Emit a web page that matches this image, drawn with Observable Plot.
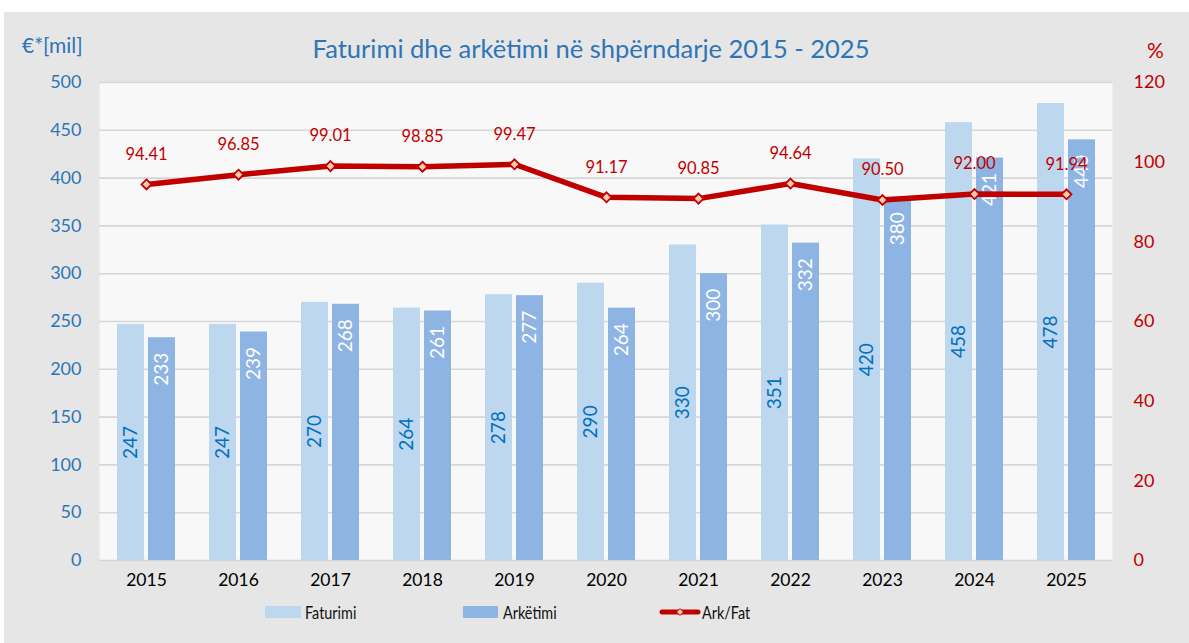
<!DOCTYPE html>
<html>
<head>
<meta charset="utf-8">
<script src="https://cdn.jsdelivr.net/npm/d3@7"></script>
<script src="https://cdn.jsdelivr.net/npm/@observablehq/plot@0.6"></script>
<style>
html,body{margin:0;padding:0;background:#fff;}
#wrap{position:relative;width:1189px;height:643px;overflow:hidden;font-family:Lato,"Open Sans",sans-serif;}
#bg{position:absolute;left:4px;top:12px;right:0;bottom:0;background:#e6e6e6;}
#chart{position:absolute;left:0;top:0;}
.title{position:absolute;top:33px;left:0;width:1182px;text-align:center;color:#2e75b6;font-size:25.5px;line-height:30px;white-space:nowrap;}
.unitL{position:absolute;left:22px;top:34px;line-height:22px;font-size:21px;color:#2e75b6;}
.unitR{position:absolute;left:1147px;top:39px;line-height:22px;font-size:21px;color:#c00000;}
.sw{position:absolute;top:606px;height:12px;}
.lt{position:absolute;top:601px;line-height:22px;font-size:18px;color:#111;transform:scaleX(0.8);transform-origin:left center;white-space:nowrap;}
</style>
</head>
<body>
<div id="wrap">
  <div id="bg"></div>
  <div id="chart"></div>
  <div class="title">Faturimi dhe arkëtimi në shpërndarje 2015 - 2025</div>
  <div class="unitL">€*[mil]</div>
  <div class="unitR">%</div>
  <div class="sw" style="left:265px;width:36px;background:#bdd7ee"></div>
  <div class="lt" style="left:305px">Faturimi</div>
  <div class="sw" style="left:463px;width:35px;background:#8eb4e3"></div>
  <div class="lt" style="left:503px">Arkëtimi</div>
  <svg style="position:absolute;left:659px;top:604px" width="42" height="16">
    <line x1="3" y1="8" x2="39" y2="8" stroke="#c00000" stroke-width="5" stroke-linecap="round"/>
    <path d="M21,4.5 L24.5,8 L21,11.5 L17.5,8 Z" fill="#f8cbad" stroke="#c00000" stroke-width="1"/>
  </svg>
  <div class="lt" style="left:702px">Ark/Fat</div>
</div>
<script>
const years = ["2015","2016","2017","2018","2019","2020","2021","2022","2023","2024","2025"];
const faturimi = [247,247,270,264,278,290,330,351,420,458,478];
const arketimi = [233,239,268,261,277,264,300,332,380,421,440];
const arkFat = [94.41,96.85,99.01,98.85,99.47,91.17,90.85,94.64,90.50,92.00,91.94];
const leftTicks = [0,50,100,150,200,250,300,350,400,450,500];
const rightTicks = [0,20,40,60,80,100,120];

const k = 500 / 120;
const fat = years.map((year, i) => ({year, value: faturimi[i]}));
const ark = years.map((year, i) => ({year, value: arketimi[i]}));
const ratio = years.map((year, i) => ({year, pct: arkFat[i]}));

const chart = Plot.plot({
  width: 1189,
  height: 643,
  marginLeft: 99,
  marginRight: 77,
  marginTop: 82,
  marginBottom: 83,
  style: {background: "transparent", fontFamily: "Lato, 'Open Sans', sans-serif", overflow: "visible"},
  x: {type: "band", domain: years, padding: 0},
  y: {domain: [0, 500]},
  marks: [
    Plot.frame({fill: "#f8f8f8", stroke: "none"}),
    Plot.gridY(leftTicks, {stroke: "#d6d6d6", strokeOpacity: 1, strokeWidth: 1.6}),
    Plot.barY(fat, {x: "year", y: "value", fill: "#bdd7ee", dx: -15.5, insetLeft: 32.5, insetRight: 32.5}),
    Plot.barY(ark, {x: "year", y: "value", fill: "#8eb4e3", dx: 15.5, insetLeft: 32.5, insetRight: 32.5}),
    Plot.text(fat, {x: "year", y: d => d.value / 2, text: d => String(d.value), rotate: -90, dx: -15.5, fill: "#0070c0", fontSize: 19}),
    Plot.text(ark, {x: "year", y: "value", text: d => String(d.value), rotate: -90, textAnchor: "end", dx: 15.5, dy: 15, fill: "#ffffff", fontSize: 19}),
    Plot.line(ratio, {x: "year", y: d => d.pct * k, stroke: "#c00000", strokeWidth: 5.5}),
    Plot.dot(ratio, {x: "year", y: d => d.pct * k, symbol: "diamond2", r: 4.5, fill: "#f8cbad", stroke: "#c00000", strokeWidth: 1.8}),
    Plot.text(ratio, {x: "year", y: d => d.pct * k, text: d => d.pct.toFixed(2), dy: -30, fill: "#c00000", fontSize: 16.5}),
    Plot.axisY(leftTicks, {anchor: "left", tickSize: 0, tickPadding: 18, color: "#2e75b6", fontSize: 18, label: null}),
    Plot.axisY(rightTicks.map(v => v * k), {anchor: "right", tickSize: 0, tickPadding: 21, tickFormat: v => String(Math.round(v / k)), color: "#c00000", fontSize: 18, label: null}),
    Plot.axisX({tickSize: 0, tickPadding: 13, color: "#000", fontSize: 17.5, label: null})
  ]
});
document.getElementById("chart").appendChild(chart);
</script>
</body>
</html>
